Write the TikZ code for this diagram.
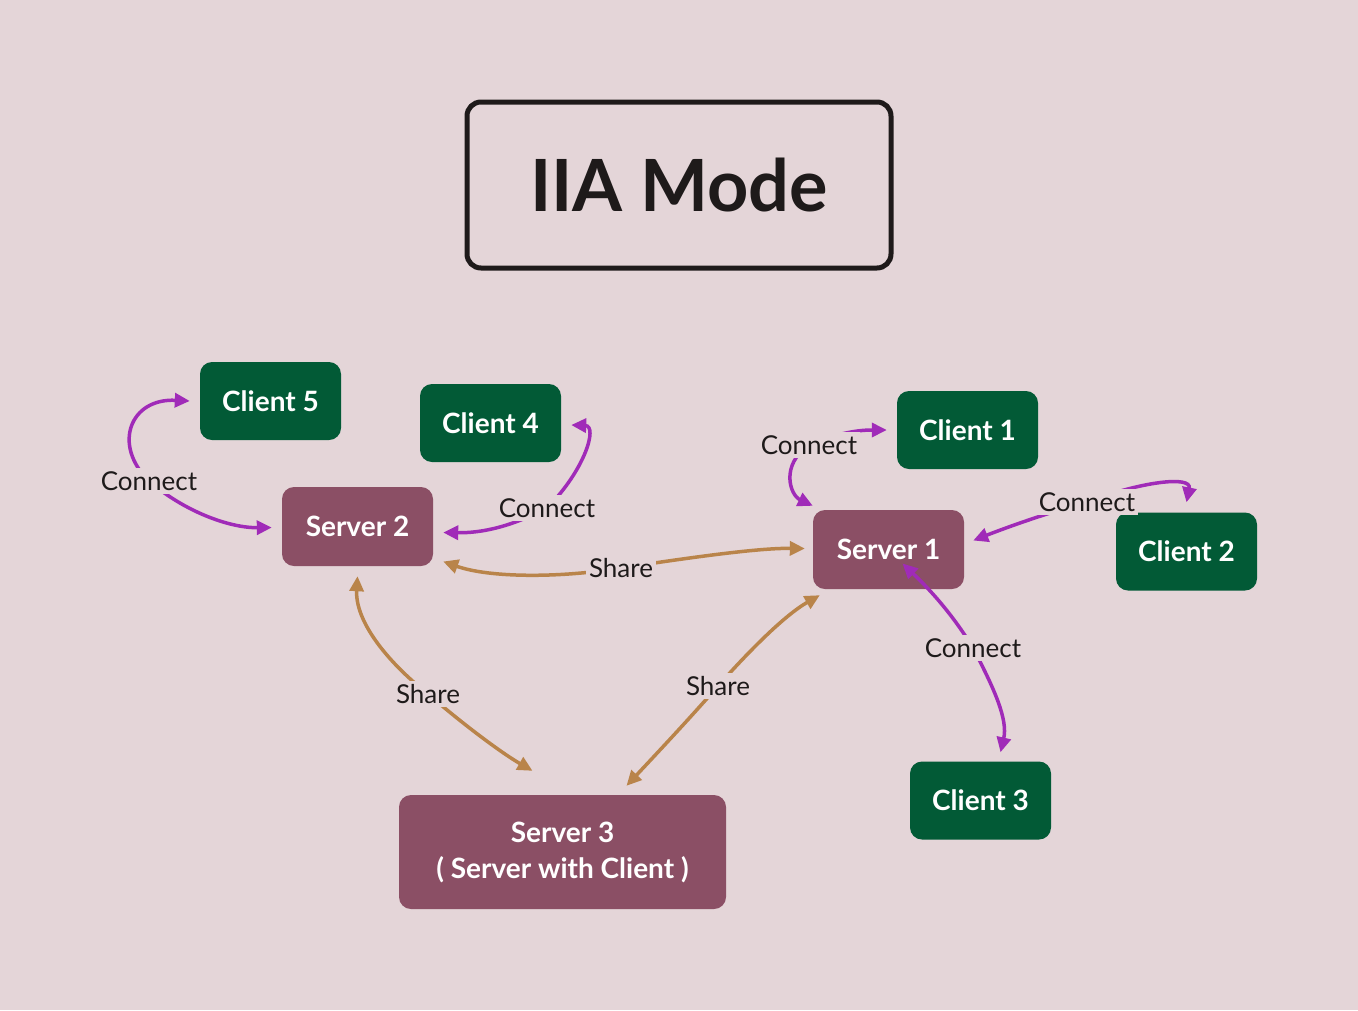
\documentclass[tikz,border=0pt]{standalone}
\usepackage{fontspec}
\setmainfont{Lato}
\usetikzlibrary{arrows.meta,calc}
\definecolor{bg}{HTML}{E4D5D8}
\definecolor{cgreen}{HTML}{025A36}
\definecolor{smaroon}{HTML}{8B4F65}
\definecolor{cpurple}{HTML}{A02BB8}
\definecolor{sbrown}{HTML}{B9844A}
\definecolor{ink}{HTML}{1E1A1A}
\begin{document}
\begin{tikzpicture}[x=1pt,y=-1pt,
  boxbase/.style={text=white, rounded corners=12pt, inner sep=0pt, font=\bfseries\fontsize{28}{36}\selectfont, align=center},
  client/.style={boxbase, fill=cgreen, minimum width=141pt, minimum height=78pt},
  server/.style={boxbase, fill=smaroon, minimum width=151pt, minimum height=79pt},
  lbl/.style={fill=bg, text=ink, inner sep=3pt, font=\fontsize{26}{28}\selectfont},
  conn/.style={draw=cpurple, line width=3.5pt, {Triangle[length=15pt,width=14pt]}-{Triangle[length=15pt,width=14pt]}},
  share/.style={draw=sbrown, line width=3.5pt, {Triangle[length=15pt,width=14pt]}-{Triangle[length=15pt,width=14pt]}},
  titlebox/.style={draw=ink, line width=5pt, rounded corners=14pt, minimum width=424pt, minimum height=166pt, text=ink, font=\bfseries\fontsize{72}{80}\selectfont}
]
\fill[bg] (0,0) rectangle (1358,1010);
\useasboundingbox (0,0) rectangle (1358,1010);

\node[titlebox] (title) at (679,185) {IIA Mode};

\node[client] (c5) at (270.5,401) {Client 5};
\node[client] (c4) at (490.5,423) {Client 4};
\node[client] (c1) at (967.5,430) {Client 1};
\node[client] (c2) at (1186.5,551.5) {Client 2};
\node[client] (c3) at (980.5,800.5) {Client 3};
\node[server] (s2) at (357.5,526.5) {Server 2};
\node[server] (s1) at (888.5,549.5) {Server 1};
\node[server, minimum width=327pt, minimum height=114pt] (s3) at (562.5,852) {Server 3\\( Server with Client )};

% Client5 -- Server2
\draw[conn] ($(c5.west)+(-10,0)$) .. controls (130,398) and (112,445) .. (149,481) node[lbl] (l1) {Connect}
  .. controls (185,512) and (230,528) .. ($(s2.west)+(-10,1)$);
% Client4 -- Server2
\draw[conn] ($(c4.east)+(10,2)$) .. controls (598,426) and (585,470) .. (547,508) node[lbl] (l2) {Connect}
  .. controls (505,530) and (475,533) .. ($(s2.east)+(10,6)$);
% Server2 -- Server1 share
\draw[share] ($(s2.east)+(10,35)$) .. controls (490,578) and (560,578) .. (621,568) node[lbl] (l3) {Share}
  .. controls (700,556) and (760,548) .. ($(s1.west)+(-8,-1)$);
% Server2 -- Server3 share
\draw[share] ($(s2.south)+(0,10)$) .. controls (355,620) and (385,660) .. (428,694) node[lbl] (l4) {Share}
  .. controls (470,730) and (505,755) .. ($(s3.north)+(-30,-24)$);
% Server3 -- Server1 share
\draw[share] ($(s3.north)+(64,-9)$) .. controls (660,750) and (690,718) .. (718,686) node[lbl] (l5) {Share}
  .. controls (750,650) and (785,615) .. ($(s1.south west)+(7,6)$);
% Server1 -- Client1
\draw[conn] ($(s1.north west)+(0,-4)$) .. controls (790,495) and (780,465) .. (809,445) node[lbl] (l6) {Connect}
  .. controls (840,432) and (860,430) .. ($(c1.west)+(-10,0)$);
% Server1 -- Client2
\draw[conn] ($(s1.east)+(9,-9)$) .. controls (1000,530) and (1040,515) .. (1087,502) node[lbl] (l7) {Connect}
  .. controls (1140,482) and (1192,475) .. ($(c2.north)+(0,-10)$);
% Server1 -- Client3
\draw[conn] ($(s1.center)+(14,14)$) .. controls (925,585) and (950,610) .. (973,648) node[lbl] (l8) {Connect}
  .. controls (995,690) and (1008,720) .. ($(c3.north)+(20,-9)$);
\end{tikzpicture}
\end{document}
